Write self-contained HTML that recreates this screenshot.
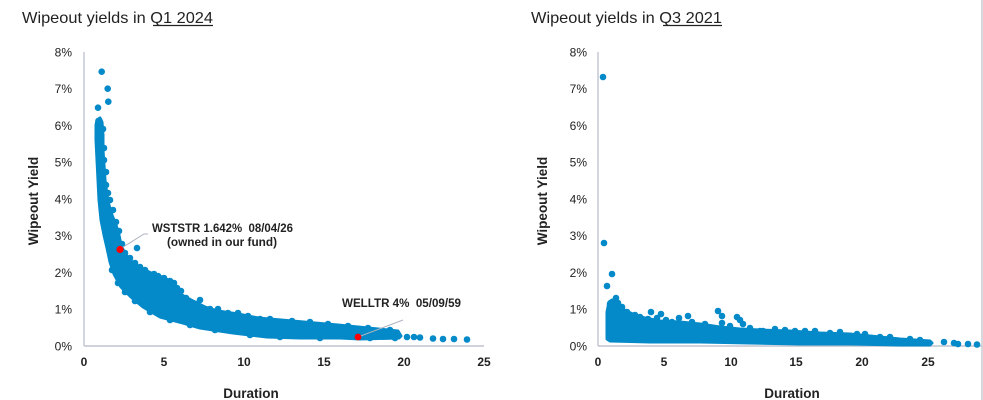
<!DOCTYPE html>
<html>
<head>
<meta charset="utf-8">
<style>
  html,body{margin:0;padding:0;background:#fff;}
  svg{display:block;}
  text{font-family:"Liberation Sans",Arial,sans-serif;fill:#222;}
</style>
</head>
<body>
<svg width="983" height="400" viewBox="0 0 983 400" xmlns="http://www.w3.org/2000/svg">
  <rect width="983" height="400" fill="#fff"/>
  <line x1="982" y1="0" x2="982" y2="400" stroke="#c9ccd4" stroke-width="1.5"/>

  <!-- ========== LEFT CHART ========== -->
  <text x="22" y="23" font-size="16" textLength="191" lengthAdjust="spacingAndGlyphs">Wipeout yields in Q1 2024</text>
  <line x1="153" y1="25.5" x2="213" y2="25.5" stroke="#222" stroke-width="1.2"/>

  <line x1="84" y1="52" x2="84" y2="346" stroke="#d3d6de" stroke-width="2"/>
  <line x1="84" y1="346" x2="484" y2="346" stroke="#bfc3cf" stroke-width="1.5"/>

  <g font-size="12" text-anchor="end">
    <text x="72" y="56.5">8%</text>
    <text x="72" y="93.2">7%</text>
    <text x="72" y="130">6%</text>
    <text x="72" y="166.7">5%</text>
    <text x="72" y="203.5">4%</text>
    <text x="72" y="240.2">3%</text>
    <text x="72" y="277">2%</text>
    <text x="72" y="313.7">1%</text>
    <text x="72" y="350.5">0%</text>
  </g>
  <g font-size="12" font-weight="bold" text-anchor="middle">
    <text x="84" y="366">0</text>
    <text x="164" y="366">5</text>
    <text x="244" y="366">10</text>
    <text x="324" y="366">15</text>
    <text x="404" y="366">20</text>
    <text x="484" y="366">25</text>
  </g>
  <text x="251" y="398" font-size="13.5" font-weight="bold" text-anchor="middle">Duration</text>
  <text transform="translate(38,201) rotate(-90)" font-size="13.5" font-weight="bold" text-anchor="middle">Wipeout Yield</text>

  <g fill="#0489c9" stroke="#0489c9">
    <polygon stroke-width="3" stroke-linejoin="round" points="
      97,120 100,118 102,122 103,135 103,150 104,165 105,180 107,195 109,205 112,215 116,225 119,235 121,245 125,254 131,261 139,267 151,273 165,278 175,285 180,294 191,300 205,307 218,311 238,314 258,318 281,320 315,323 338,325 358,327 378,329 398,331 401,336
      399,338 360,339 340,338 300,338 267,337 233,333 200,328 183,323 160,317 143,307 131,297 121,287 114,274 110,262 107,248 104,235 101,220 99,200 98,180 97,160 96,140 96,125"/>
  </g>
  <g fill="#0489c9">
    <circle cx="101.7" cy="71.7" r="3.3"/>
    <circle cx="107.7" cy="88.7" r="3.3"/>
    <circle cx="108.3" cy="101.7" r="3.3"/>
    <circle cx="98" cy="107.7" r="3.3"/>
    <circle cx="98.5" cy="121" r="3.3"/>
    <circle cx="103" cy="129" r="3.3"/>
    <circle cx="101" cy="138" r="3.3"/>
    <circle cx="104" cy="148" r="3.3"/>
    <circle cx="104" cy="160" r="3.3"/>
    <circle cx="106" cy="172" r="3.3"/>
    <circle cx="106" cy="185" r="3.3"/>
    <circle cx="108" cy="193" r="3.3"/>
    <circle cx="110" cy="200" r="3.3"/>
    <circle cx="113" cy="210" r="3.3"/>
    <circle cx="116" cy="222" r="3.3"/>
    <circle cx="119" cy="231" r="3.3"/>
    <circle cx="122" cy="244" r="3.3"/>
    <circle cx="137" cy="248" r="3.3"/>
    <!-- upper edge texture -->
    <circle cx="125" cy="253" r="3.3"/>
    <circle cx="130" cy="258" r="3.3"/>
    <circle cx="135" cy="263" r="3.3"/>
    <circle cx="145" cy="270" r="3.3"/>
    <circle cx="158" cy="276" r="3.3"/>
    <circle cx="170" cy="281" r="3.3"/>
    <circle cx="181" cy="291" r="3.3"/>
    <circle cx="186" cy="298" r="3.3"/>
    <circle cx="197" cy="304" r="3.3"/>
    <circle cx="210" cy="309" r="3.3"/>
    <circle cx="228" cy="313" r="3.3"/>
    <circle cx="248" cy="316" r="3.3"/>
    <circle cx="270" cy="319" r="3.3"/>
    <circle cx="292" cy="321" r="3.3"/>
    <circle cx="310" cy="322" r="3.3"/>
    <circle cx="328" cy="324" r="3.3"/>
    <circle cx="348" cy="326" r="3.3"/>
    <circle cx="368" cy="328" r="3.3"/>
    <circle cx="390" cy="330" r="3.3"/>
    <!-- lower edge texture -->
    <circle cx="112" cy="270" r="3.3"/>
    <circle cx="118" cy="283" r="3.3"/>
    <circle cx="125" cy="292" r="3.3"/>
    <circle cx="135" cy="301" r="3.3"/>
    <circle cx="150" cy="312" r="3.3"/>
    <circle cx="170" cy="320" r="3.3"/>
    <circle cx="190" cy="325" r="3.3"/>
    <circle cx="215" cy="330" r="3.3"/>
    <circle cx="250" cy="335" r="3.3"/>
    <circle cx="280" cy="337" r="3.3"/>
    <circle cx="320" cy="338" r="3.3"/>
    <circle cx="370" cy="338" r="3.3"/>
    <circle cx="395" cy="338" r="3.3"/>
    <!-- outliers -->
    <circle cx="140" cy="267" r="3.3"/>
    <circle cx="154" cy="274" r="3.3"/>
    <circle cx="164" cy="278" r="3.3"/>
    <circle cx="164" cy="287" r="3.3"/>
    <circle cx="174" cy="283" r="3.3"/>
    <circle cx="177" cy="288" r="3.3"/>
    <circle cx="200" cy="300" r="3.3"/>
    <circle cx="218" cy="309" r="3.3"/>
    <circle cx="238" cy="313" r="3.3"/>
    <circle cx="260" cy="319" r="3.3"/>
    <circle cx="150" cy="280" r="3.3"/>
    <!-- tail -->
    <circle cx="407" cy="337" r="3.3"/>
    <circle cx="414" cy="337" r="3.3"/>
    <circle cx="420" cy="337.5" r="3.3"/>
    <circle cx="433" cy="338.5" r="3.3"/>
    <circle cx="443" cy="339" r="3.3"/>
    <circle cx="454" cy="339" r="3.3"/>
    <circle cx="467" cy="339.5" r="3.3"/>
  </g>

  <polyline points="120,249 144,234 148,234" fill="none" stroke="#aeb3c0" stroke-width="1"/>
  <line x1="358" y1="337" x2="403" y2="320" stroke="#aeb3c0" stroke-width="1"/>
  <circle cx="120" cy="249.5" r="3.6" fill="#ff0000"/>
  <circle cx="358" cy="337" r="3.4" fill="#ff0000"/>

  <g font-size="11.5" font-weight="bold" text-anchor="middle">
    <text x="222.5" y="232" textLength="141" lengthAdjust="spacingAndGlyphs">WSTSTR 1.642%&#160; 08/04/26</text>
    <text x="222" y="246" textLength="110" lengthAdjust="spacingAndGlyphs">(owned in our fund)</text>
    <text x="401.5" y="307" textLength="119" lengthAdjust="spacingAndGlyphs">WELLTR 4%&#160; 05/09/59</text>
  </g>

  <!-- ========== RIGHT CHART ========== -->
  <text x="531" y="23" font-size="16" textLength="191" lengthAdjust="spacingAndGlyphs">Wipeout yields in Q3 2021</text>
  <line x1="663" y1="25.5" x2="722" y2="25.5" stroke="#222" stroke-width="1.2"/>

  <line x1="598" y1="52" x2="598" y2="346" stroke="#d3d6de" stroke-width="2"/>
  <line x1="598" y1="346" x2="982" y2="346" stroke="#bfc3cf" stroke-width="1.5"/>

  <g font-size="12" text-anchor="end">
    <text x="587" y="56.5">8%</text>
    <text x="587" y="93.2">7%</text>
    <text x="587" y="130">6%</text>
    <text x="587" y="166.7">5%</text>
    <text x="587" y="203.5">4%</text>
    <text x="587" y="240.2">3%</text>
    <text x="587" y="277">2%</text>
    <text x="587" y="313.7">1%</text>
    <text x="587" y="350.5">0%</text>
  </g>
  <g font-size="12" font-weight="bold" text-anchor="middle">
    <text x="598" y="366">0</text>
    <text x="664" y="366">5</text>
    <text x="731" y="366">10</text>
    <text x="796" y="366">15</text>
    <text x="862" y="366">20</text>
    <text x="928" y="366">25</text>
  </g>
  <text x="792" y="398" font-size="13.5" font-weight="bold" text-anchor="middle">Duration</text>
  <text transform="translate(547,201) rotate(-90)" font-size="13.5" font-weight="bold" text-anchor="middle">Wipeout Yield</text>

  <g fill="#0489c9" stroke="#0489c9">
    <polygon stroke-width="3" stroke-linejoin="round" points="
      609,302 612,300 616,301 620,307 626,311 635,315 645,318 660,321 680,322 700,324 720,327 740,329 760,330 790,331 820,333 850,334 870,336 900,339 930,341 932,343
      930,345 900,345 850,344 800,344 750,343 700,342 650,342 610,341 607,339 607,312"/>
  </g>
  <g fill="#0489c9">
    <circle cx="603" cy="77" r="3.3"/>
    <circle cx="604" cy="243" r="3.3"/>
    <circle cx="607" cy="286" r="3.3"/>
    <circle cx="612" cy="274" r="3.3"/>
    <circle cx="610" cy="304" r="3.3"/>
    <circle cx="616" cy="298" r="3.3"/>
    <circle cx="618" cy="303" r="3.3"/>
    <circle cx="622" cy="307" r="3.3"/>
    <circle cx="623" cy="313" r="3.3"/>
    <circle cx="627" cy="312" r="3.3"/>
    <circle cx="635" cy="315" r="3.3"/>
    <circle cx="651" cy="312" r="3.3"/>
    <circle cx="657" cy="318" r="3.3"/>
    <circle cx="661" cy="314" r="3.3"/>
    <circle cx="672" cy="322" r="3.3"/>
    <circle cx="679" cy="318" r="3.3"/>
    <circle cx="688" cy="316" r="3.3"/>
    <circle cx="718" cy="311" r="3.3"/>
    <circle cx="722" cy="316" r="3.3"/>
    <circle cx="722" cy="323" r="3.3"/>
    <circle cx="737" cy="317" r="3.3"/>
    <circle cx="740" cy="320" r="3.3"/>
    <circle cx="743" cy="324" r="3.3"/>
    <circle cx="760" cy="331" r="3.3"/>
    <circle cx="763" cy="331" r="3.3"/>
    <circle cx="795" cy="331" r="3.3"/>
    <!-- edge texture -->
    <circle cx="640" cy="317" r="3.3"/>
    <circle cx="648" cy="319" r="3.3"/>
    <circle cx="666" cy="320" r="3.3"/>
    <circle cx="692" cy="322" r="3.3"/>
    <circle cx="705" cy="324" r="3.3"/>
    <circle cx="730" cy="326" r="3.3"/>
    <circle cx="750" cy="328" r="3.3"/>
    <circle cx="775" cy="329" r="3.3"/>
    <circle cx="785" cy="330" r="3.3"/>
    <circle cx="805" cy="331" r="3.3"/>
    <circle cx="815" cy="331" r="3.3"/>
    <circle cx="830" cy="333" r="3.3"/>
    <circle cx="840" cy="332" r="3.3"/>
    <circle cx="857" cy="334" r="3.3"/>
    <circle cx="865" cy="334" r="3.3"/>
    <circle cx="880" cy="337" r="3.3"/>
    <circle cx="890" cy="337" r="3.3"/>
    <circle cx="910" cy="339" r="3.3"/>
    <circle cx="920" cy="340" r="3.3"/>
    <circle cx="944" cy="342" r="3.3"/>
    <circle cx="954" cy="343" r="3.3"/>
    <circle cx="958" cy="344" r="3.3"/>
    <circle cx="968" cy="344" r="3.3"/>
    <circle cx="977" cy="344.5" r="3.3"/>
  </g>
</svg>
</body>
</html>
